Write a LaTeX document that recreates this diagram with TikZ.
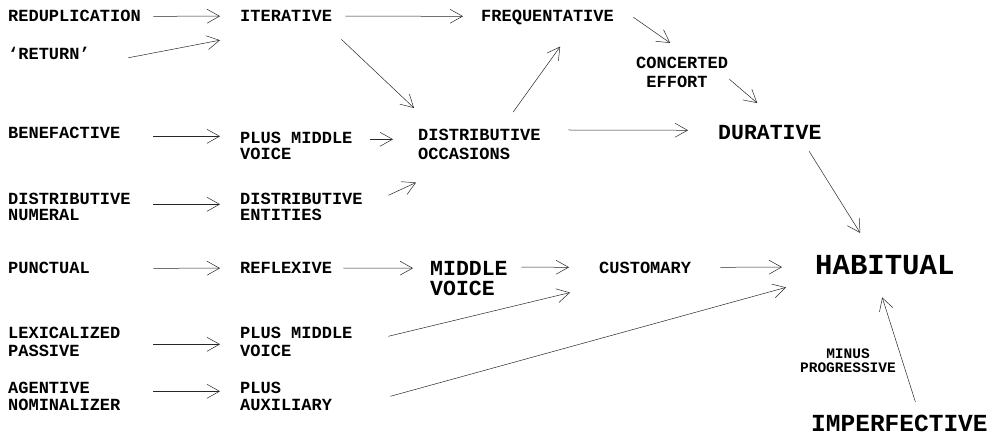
\documentclass[tikz,border=0pt]{standalone}
\usepackage{fontspec}
\setmonofont{Liberation Mono}
\usetikzlibrary{arrows.meta}
\tikzstyle{term}=[anchor=north west,inner sep=0pt,text depth=0pt,align=left,font=\ttfamily\bfseries\fontsize{17}{16}\selectfont]
\tikzstyle{midterm}=[term,font=\ttfamily\bfseries\fontsize{21.5}{20}\selectfont]
\tikzstyle{arr}=[->,line width=0.5pt,black!85]

\begin{document}
\begin{tikzpicture}[x=1pt,y=-1pt,>={Straight Barb[length=12.5pt,width=14pt]}]

        \useasboundingbox (0,0) rectangle (994,435);

      % left column
      \node[term] (redup) at (8,10.4) {REDUPLICATION};
      \node[term] (ret) at (8,47.4) {‘RETURN’};
      \node[term] (benef) at (8,127.4) {BENEFACTIVE};
      \node[term] (distnum) at (8,193.4) {DISTRIBUTIVE\\NUMERAL};
      \node[term] (punct) at (8,262.4) {PUNCTUAL};
      \node[term] (lex) at (8,327.4) {LEXICALIZED\\[2pt]PASSIVE};
      \node[term] (agent) at (8,382.4) {AGENTIVE\\[1pt]NOMINALIZER};

      % second column
      \node[term] (iter) at (240,10.4) {ITERATIVE};
      \node[term] (plusa) at (240,132.4) {PLUS MIDDLE\\VOICE};
      \node[term] (distent) at (240,193.4) {DISTRIBUTIVE\\ENTITIES};
      \node[term] (refl) at (240,262.4) {REFLEXIVE};
      \node[term] (plusb) at (240,327.4) {PLUS MIDDLE\\[2pt]VOICE};
      \node[term] (plusc) at (240,382.4) {PLUS\\[1pt]AUXILIARY};

      % middle
      \node[term] (distocc) at (418,129.4) {DISTRIBUTIVE\\[3pt]OCCASIONS};
      \node[midterm] (midv) at (430,261) {MIDDLE\\VOICE};
      \node[term] (freq) at (481,10.4) {FREQUENTATIVE};
      \node[term] (conc) at (636,57.4) {CONCERTED\\[3pt]\hphantom{C}EFFORT};
      \node[term] (cust) at (599,262.4) {CUSTOMARY};
      \node[midterm] (dur) at (718,125) {DURATIVE};

      % right
      \node[term,font=\ttfamily\bfseries\fontsize{29}{30}\selectfont] (hab) at (815,255.5) {HABITUAL};
      \node[term,font=\ttfamily\bfseries\fontsize{24.5}{26}\selectfont] (imp) at (811,414.5) {IMPERFECTIVE};
      \node[term,anchor=north,align=center,font=\ttfamily\bfseries\fontsize{14.5}{14}\selectfont] (minus) at (848,348.2) {MINUS\\PROGRESSIVE};

      \draw[arr] ([shift={(12.4,0)}]redup.east) -- ([shift={(-20,0)}]iter.west);
      \draw[arr] ([shift={(38.4,4)}]ret.east) -- ([shift={(-20,24)}]iter.west);
      \draw[arr] ([shift={(13.2,0)}]iter.east) -- ([shift={(-18,0)}]freq.west);
      \draw[arr] ([shift={(9.2,17.4)}]iter.south east) -- ([shift={(-4,-21.4)}]distocc.north west);
      \draw[arr] ([shift={(19.4,1)}]freq.east) -- ([shift={(-11.9,-14.4)}]conc.north);
      \draw[arr] ([shift={(1.2,6.5)}]conc.east) -- ([shift={(-12.6,-22)}]dur.north);
      \draw[arr] ([shift={(33.8,-17.4)}]distocc.north) -- ([shift={(12.7,24.4)}]freq.south);
      \draw[arr] ([shift={(27.6,0.6)}]distocc.north east) -- ([shift={(-30,-2)}]dur.west);
      \draw[arr] ([shift={(39.4,11.8)}]dur.south) -- ([shift={(-24.6,-22.5)}]hab.north);

      \draw[arr] ([shift={(32.8,3)}]benef.east) -- ([shift={(-20,-10)}]plusa.west);
      \draw[arr] ([shift={(17.8,-7)}]plusa.east) -- ([shift={(-25,-5.5)}]distocc.west);
      \draw[arr] ([shift={(22.6,-3)}]distnum.east) -- ([shift={(-20,-3)}]distent.west);
      \draw[arr] ([shift={(25.6,-12)}]distent.east) -- ([shift={(-2,22.4)}]distocc.south west);

      \draw[arr] ([shift={(63.4,0)}]punct.east) -- ([shift={(-20,0)}]refl.west);
      \draw[arr] ([shift={(11.2,0)}]refl.east) -- ([shift={(-17,-10.1)}]midv.west);
      \draw[arr] ([shift={(13.6,-11.1)}]midv.east) -- ([shift={(-30,-1)}]cust.west);
      \draw[arr] ([shift={(29.2,-1)}]cust.east) -- ([shift={(-33,1.9)}]hab.west);

      \draw[arr] ([shift={(32.8,2)}]lex.east) -- ([shift={(-20,2)}]plusb.west);
      \draw[arr] ([shift={(35.8,-6)}]plusb.east) -- ([shift={(-29,18.4)}]cust.south west);
      \draw[arr] ([shift={(32.8,-5.5)}]agent.east) -- ([shift={(-20,-5.5)}]plusc.west);
      \draw[arr] ([shift={(58.2,-0.5)}]plusc.east) -- ([shift={(-29,12.4)}]hab.south west);
      \draw[arr] ([shift={(16,-12.5)}]imp.north) -- ([shift={(-2.6,22.4)}]hab.south);

  \end{tikzpicture}
\end{document}
